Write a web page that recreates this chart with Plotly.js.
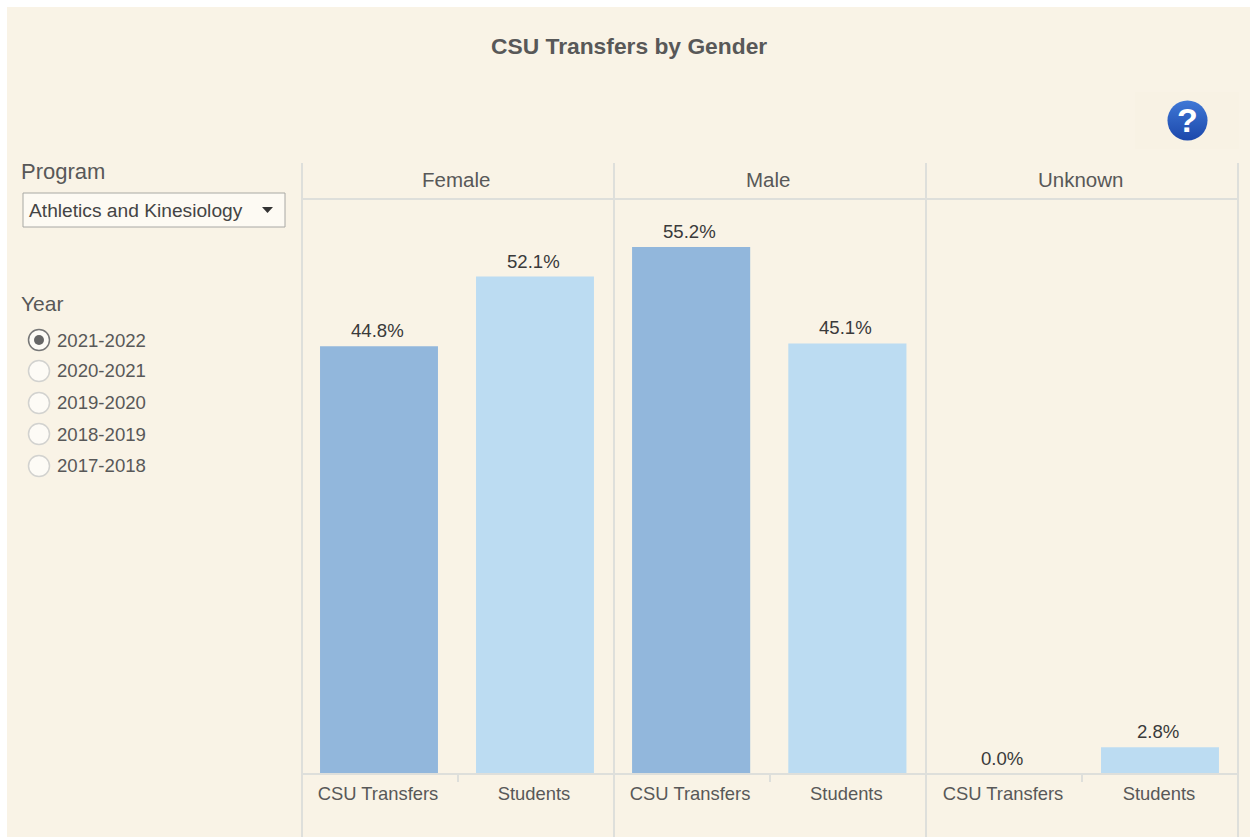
<!DOCTYPE html>
<html><head><meta charset="utf-8">
<script src="https://cdn.plot.ly/plotly-3.0.1.min.js"></script>
<style>html,body{margin:0;padding:0;background:#fff;overflow:hidden}#chart{width:1250px;height:837px}</style>
</head><body><div id="chart"></div>
<script>
const measures = ["CSU Transfers", "Students"];
const genders = ["Female", "Male", "Unknown"];
const femaleValues = [44.8, 52.1];
const maleValues = [55.2, 45.1];
const unknownValues = [0.0, 2.8];
const barColors = ["#92b7dc", "#bcdcf2"];
const years = ["2021-2022", "2020-2021", "2019-2020", "2018-2019", "2017-2018"];
const selectedYear = "2021-2022";
const program = "Athletics and Kinesiology";
const seriesByGender = [femaleValues, maleValues, unknownValues];

const W = 1250, H = 837, FONT = '"Liberation Sans", Arial, sans-serif';
const px = x => x / W, py = y => 1 - y / H;
const panelEdges = [302, 614, 926, 1238];
const panelDomains = [[301, 613], [613, 925.5], [926, 1238]];
const plotTop = 199, plotBottom = 774, yMax = 60.23;
const lineCol = "#dedfdb", textCol = "#585858";

const traces = seriesByGender.map((vals, i) => ({
  type: "bar", x: measures, y: vals,
  xaxis: i ? "x" + (i + 1) : "x", yaxis: "y",
  width: 0.756, marker: {color: barColors, line: {width: 0}}, hoverinfo: "skip"
}));

const layout = {
  width: W, height: H, margin: {l: 0, r: 0, t: 0, b: 0, pad: 0}, autosize: false,
  paper_bgcolor: "#ffffff", plot_bgcolor: "rgba(0,0,0,0)", showlegend: false, bargap: 0.244,
  font: {family: FONT},
  yaxis: {domain: [py(plotBottom), py(plotTop)], range: [0, yMax], visible: false, fixedrange: true},
  shapes: [], annotations: [], images: []
};
panelDomains.forEach((d, i) => {
  const key = i ? "xaxis" + (i + 1) : "xaxis";
  layout[key] = {
    domain: [px(d[0]), px(d[1])], anchor: "y", type: "category",
    categoryorder: "array", categoryarray: measures, range: [-0.5, 1.5],
    showgrid: false, zeroline: false, showline: false, fixedrange: true,
    ticks: "outside", ticklen: 3, tickcolor: "rgba(0,0,0,0)", ticklabelshift: -1,
    tickfont: {family: FONT, size: 18.4, color: textCol}
  };
  const mid = (panelEdges[i] + panelEdges[i + 1]) / 2;
  layout.annotations.push(txt(genders[i], mid - 2, 179.5, 20.5, textCol, "center"));
  layout.shapes.push(line(mid, 774, mid, 782));
  // value labels placed through the axes' own data scale
  seriesByGender[i].forEach((v, j) => layout.annotations.push({
    text: v.toFixed(1) + "%", x: measures[j], y: v,
    xref: i ? "x" + (i + 1) : "x", yref: "y", showarrow: false,
    xanchor: "center", yanchor: "bottom", xshift: -2, yshift: 3,
    font: {family: FONT, size: 18.6, color: "#3a3a3a"}
  }));
});

function txt(t, x, y, size, color, anchor) {
  return {text: t, x: px(x), y: py(y), xref: "paper", yref: "paper", showarrow: false,
    xanchor: anchor || "left", yanchor: "middle", font: {family: FONT, size, color}};
}
function line(x0, y0, x1, y1) {
  return {type: "line", xref: "paper", yref: "paper", x0: px(x0), y0: py(y0), x1: px(x1), y1: py(y1),
    line: {color: lineCol, width: 2}, layer: "above"};
}
function circle(cx, cy, r, fill, stroke, w) {
  return {type: "circle", xref: "paper", yref: "paper", x0: px(cx - r), x1: px(cx + r), y0: py(cy + r), y1: py(cy - r),
    fillcolor: fill, line: {color: stroke, width: w}, layer: "above"};
}
// page panel
layout.shapes.push({type: "rect", xref: "paper", yref: "paper", x0: px(7), x1: 1, y0: 0, y1: py(7),
  fillcolor: "#f9f3e6", line: {width: 0}, layer: "below"});
// facet frame
panelEdges.forEach(x => layout.shapes.push(line(x, 163, x, 837)));
layout.shapes.push(line(302, plotTop, 1238, plotTop), line(302, plotBottom, 1238, plotBottom));
// title
layout.annotations.push(txt("<b>CSU Transfers by Gender</b>", 629, 46, 22.8, textCol, "center"));
// program filter
layout.annotations.push(txt("Program", 19, 172, 22, textCol));
layout.shapes.push({type: "rect", xref: "paper", yref: "paper", x0: px(23), x1: px(285), y0: py(227), y1: py(193),
  fillcolor: "#fdfaf3", line: {color: "#a8a8a4", width: 1}, layer: "above"});
layout.annotations.push(txt(program, 27, 211, 19.2, "#444444"));
layout.shapes.push({type: "path", xref: "paper", yref: "paper", fillcolor: "#333333", line: {width: 0}, layer: "above",
  path: `M ${px(262)} ${py(207)} L ${px(273)} ${py(207)} L ${px(267.5)} ${py(213)} Z`});
// year filter
layout.annotations.push(txt("Year", 19, 303, 21, textCol));
const yearRows = [340, 371, 403, 434, 466];
years.forEach((y, i) => {
  const on = y === selectedYear;
  layout.shapes.push(circle(39, yearRows[i], 10.5, "#fdfbf6", on ? "#777777" : "#d2d2cf", 1.5));
  if (on) layout.shapes.push(circle(39, yearRows[i], 5, "#666666", "#666666", 0));
  layout.annotations.push(txt(y, 55, yearRows[i], 18.6, textCol));
});
// help button
const helpSvg = '<svg xmlns="http://www.w3.org/2000/svg" width="42" height="42"><defs><linearGradient id="g" x1="0" y1="0" x2="0" y2="1"><stop offset="0" stop-color="#3f78d6"/><stop offset="1" stop-color="#1c48ab"/></linearGradient></defs><circle cx="21" cy="21" r="20.5" fill="url(#g)"/></svg>';
layout.images.push({source: "data:image/svg+xml;base64," + btoa(helpSvg), xref: "paper", yref: "paper",
  x: px(1167), y: py(100), sizex: px(41), sizey: 41 / H, sizing: "stretch", xanchor: "left", yanchor: "top", layer: "above"});
layout.annotations.push(txt("<b>?</b>", 1187.5, 120, 34, "#ffffff", "center"));
layout.shapes.push({type: "rect", xref: "paper", yref: "paper", x0: px(1135), x1: px(1239), y0: py(149), y1: py(92),
  fillcolor: "#f8f2e4", line: {width: 0}, layer: "below"});

Plotly.newPlot("chart", traces, layout, {displayModeBar: false, staticPlot: true});
</script></body></html>
